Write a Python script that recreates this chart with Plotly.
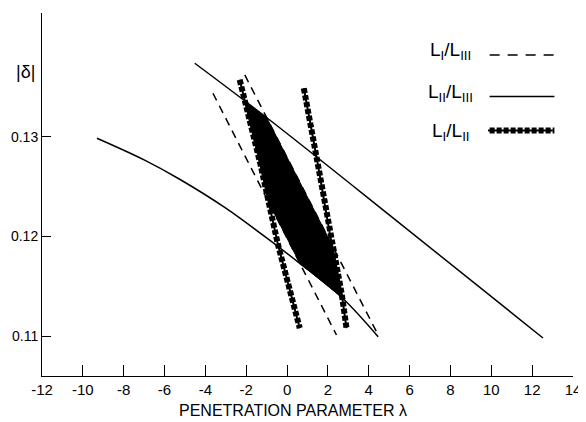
import numpy as np
import plotly.graph_objects as go

# ---- data ----
# L_II / L_III  (solid curves)
solid_upper_x = [-4.52, -0.85, 5.52, 12.53]
solid_upper_y = [0.13736, 0.13167, 0.12131, 0.10981]
solid_lower_x = [-9.31, -7.0, -5.26, -3.0, -0.52, 0.62, 2.67, 4.46]
solid_lower_y = [0.12984, 0.12767, 0.12573, 0.12283, 0.11910, 0.11730, 0.11390, 0.10994]
# L_I / L_III  (dashed lines)
dash_left_x = [-3.63, 2.42]
dash_left_y = [0.13435, 0.11011]
dash_right_x = [-2.07, 4.46]
dash_right_y = [0.13619, 0.11011]
# L_I / L_II  (beaded lines)
dot_left_x = [-2.32, -1.30, -0.45, 0.62]
dot_left_y = [0.1357, 0.1272, 0.1192, 0.1108]
dot_right_x = [0.82, 1.44, 2.09, 2.67, 2.91]
dot_right_y = [0.13485, 0.1280, 0.1203, 0.1143, 0.1108]

x_tickvals = list(range(-12, 15, 2))
x_ticktext = [str(v) for v in x_tickvals]
y_tickvals = [0.11, 0.12, 0.13]
y_ticktext = ["0.11", "0.12", "0.13"]

legend_labels = ["L<sub>I</sub>/L<sub>III</sub>", "L<sub>II</sub>/L<sub>III</sub>", "L<sub>I</sub>/L<sub>II</sub>"]


def intersect(ax, ay, bx, by):
    for i in range(len(ax) - 1):
        p = np.array([ax[i], ay[i]])
        r = np.array([ax[i + 1], ay[i + 1]]) - p
        for j in range(len(bx) - 1):
            q = np.array([bx[j], by[j]])
            s = np.array([bx[j + 1], by[j + 1]]) - q
            den = r[0] * s[1] - r[1] * s[0]
            if den == 0:
                continue
            qp = q - p
            t = (qp[0] * s[1] - qp[1] * s[0]) / den
            u = (qp[0] * r[1] - qp[1] * r[0]) / den
            if -0.05 <= t <= 1.05 and -0.05 <= u <= 1.05:
                return p + t * r
    return None


# allowed region = intersection of the three bands
v = [
    intersect(dot_left_x, dot_left_y, solid_upper_x, solid_upper_y),
    intersect(solid_upper_x, solid_upper_y, dash_right_x, dash_right_y),
    intersect(dash_right_x, dash_right_y, dot_right_x, dot_right_y),
    intersect(dot_right_x, dot_right_y, solid_lower_x, solid_lower_y),
    intersect(solid_lower_x, solid_lower_y, dash_left_x, dash_left_y),
    intersect(dash_left_x, dash_left_y, dot_left_x, dot_left_y),
]
v = [pt for pt in v if pt is not None]
fill_x = [pt[0] for pt in v] + [v[0][0]]
fill_y = [pt[1] for pt in v] + [v[0][1]]

FONT = "Liberation Sans"
fig = go.Figure()

fig.add_trace(go.Scatter(x=fill_x, y=fill_y, mode="lines", fill="toself",
                         fillcolor="black", line=dict(color="black", width=1),
                         hoverinfo="skip", showlegend=False))

for xs, ys in [(solid_upper_x, solid_upper_y), (solid_lower_x, solid_lower_y)]:
    fig.add_trace(go.Scatter(x=xs, y=ys, mode="lines", line=dict(color="black", width=1.5),
                             line_shape="spline", showlegend=False))
for xs, ys in [(dash_left_x, dash_left_y), (dash_right_x, dash_right_y)]:
    fig.add_trace(go.Scatter(x=xs, y=ys, mode="lines",
                             line=dict(color="black", width=1.5, dash="8px,6px"), showlegend=False))
BEAD = dict(color="black", width=6, dash="5px,2px")
for xs, ys in [(dot_left_x, dot_left_y), (dot_right_x, dot_right_y)]:
    fig.add_trace(go.Scatter(x=xs, y=ys, mode="lines", line=dict(color="black", width=2),
                             showlegend=False))
    fig.add_trace(go.Scatter(x=xs, y=ys, mode="lines", line=BEAD, showlegend=False))

# custom legend (label left, sample right)
leg_y = [0.895, 0.780, 0.673]
leg_line_y = [0.8845, 0.7697, 0.676]
styles = [dict(color="black", width=1.5, dash="10px,8px"),
          dict(color="black", width=1.5),
          BEAD]
for lab, ly, sy, st in zip(legend_labels, leg_y, leg_line_y, styles):
    fig.add_annotation(x=0.77, y=ly, xref="paper", yref="paper", text=lab, showarrow=False,
                       xanchor="center", yanchor="middle",
                       font=dict(family=FONT, size=19, color="black"))
    fig.add_shape(type="line", xref="paper", yref="paper", x0=0.843, x1=0.965, y0=sy, y1=sy,
                  line=st)
fig.add_shape(type="line", xref="paper", yref="paper", x0=0.840, x1=0.962,
              y0=leg_line_y[2], y1=leg_line_y[2], line=dict(color="black", width=2))

fig.add_annotation(x=-0.032, y=0.838, xref="paper", yref="paper", text="|δ|", showarrow=False,
                   xanchor="center", yanchor="middle",
                   font=dict(family=FONT, size=18, color="black"))
fig.add_annotation(x=0.4736, y=-0.094, xref="paper", yref="paper",
                   text="PENETRATION PARAMETER λ", showarrow=False,
                   xanchor="center", yanchor="middle",
                   font=dict(family=FONT, size=16, color="black"))

# the page body adds an 8px offset, so the figure is sized/margined to compensate
fig.update_layout(
    width=578, height=414,
    margin=dict(l=34, r=13, t=5, b=46),
    paper_bgcolor="white", plot_bgcolor="white",
    showlegend=False,
    font=dict(family=FONT, size=14, color="black"),
)
fig.update_xaxes(range=[-12, 14], tickvals=x_tickvals, ticktext=x_ticktext,
                 ticks="inside", ticklen=11, tickwidth=1, tickcolor="black",
                 showline=True, linecolor="black", linewidth=1, showgrid=False,
                 zeroline=False, tickfont=dict(size=15), automargin=False)
fig.update_yaxes(range=[0.1060, 0.1424], tickvals=y_tickvals, ticktext=y_ticktext,
                 ticks="inside", ticklen=9, tickwidth=1, tickcolor="black",
                 showline=True, linecolor="black", linewidth=1, showgrid=False,
                 zeroline=False, tickfont=dict(size=14), ticklabelstandoff=0,
                 automargin=False)

fig.write_html("out.html")
